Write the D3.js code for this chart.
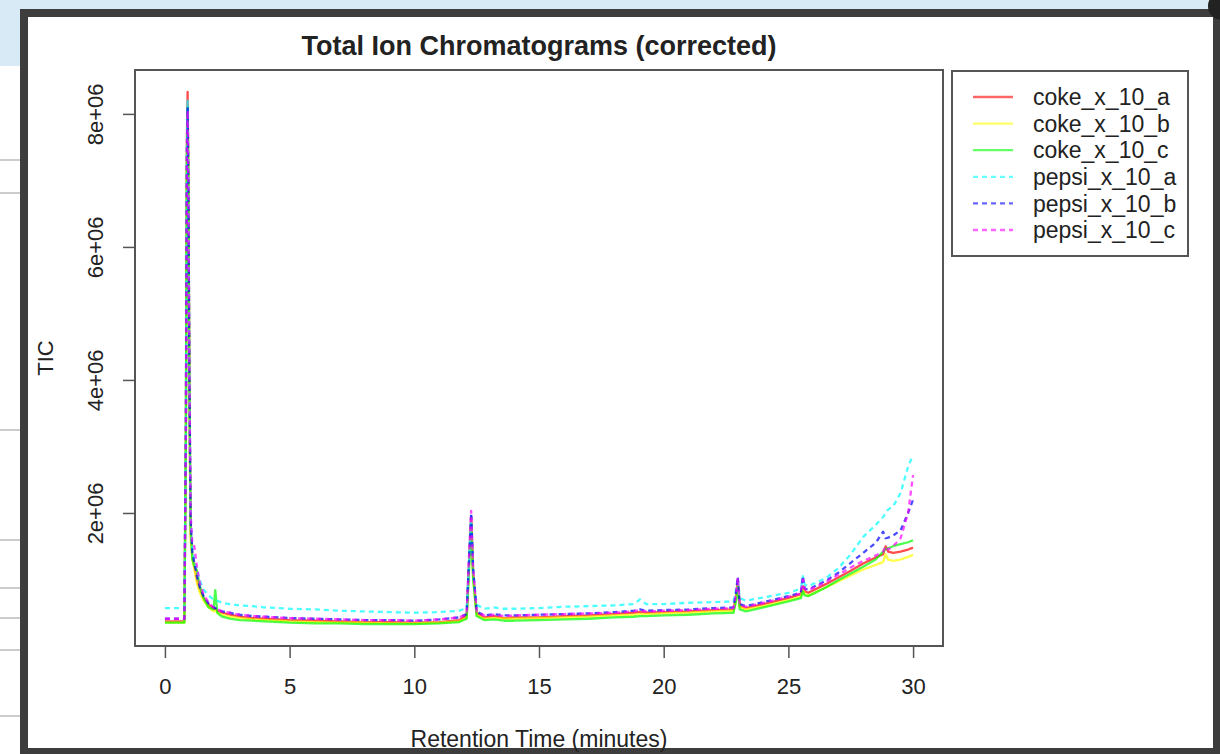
<!DOCTYPE html>
<html><head><meta charset="utf-8">
<script src="https://cdn.jsdelivr.net/npm/d3@7"></script>
<style>body{margin:0;background:#fff}svg{display:block}text{font-family:"Liberation Sans",Arial,sans-serif;fill:#222}</style>
</head><body><svg id="c" width="1220" height="754"></svg>
<script>
// ---- data (TIC in millions) ----
const seriesNames = ["coke_x_10_a","coke_x_10_b","coke_x_10_c","pepsi_x_10_a","pepsi_x_10_b","pepsi_x_10_c"];
const seriesColors = ["#ff0000","#ffff00","#00ff00","#00ffff","#0000ff","#ff00ff"];
const seriesDash = [null,null,null,"5,4","5,4","5,4"];
const retentionTime = [0,0.4,0.78,0.84,0.88,0.91,0.94,0.98,1.03,1.1,1.18,1.28,1.4,1.55,1.75,1.95,2.02,2.1,2.3,2.6,3,3.5,4,5,6,7,8,9,10,11,11.8,12.1,12.2,12.28,12.36,12.5,12.8,13.2,13.6,14,15,16,17,18,18.8,19.05,19.3,20,21,22,22.8,22.9,22.97,23.05,23.3,24,25,25.5,25.58,25.66,25.8,26.5,27,27.5,28,28.5,28.8,28.9,29,29.2,29.5,29.8,30];
const cokeA = [0.37,0.37,0.37,3.2,7.6,8.33,7.1,4.0,1.7,1.35,1.2,1.0,0.85,0.72,0.62,0.56,0.56,0.53,0.5,0.47,0.44,0.42,0.41,0.39,0.38,0.37,0.36,0.36,0.35,0.36,0.39,0.45,1.3,1.95,1.1,0.5,0.43,0.45,0.42,0.43,0.43,0.45,0.46,0.48,0.5,0.51,0.5,0.51,0.52,0.54,0.55,0.75,0.98,0.6,0.57,0.63,0.72,0.78,0.9,0.82,0.8,0.93,1.03,1.13,1.24,1.33,1.38,1.5,1.42,1.4,1.42,1.45,1.48];
const cokeB = [0.35,0.35,0.35,3.0,7.2,8.0,6.9,3.8,1.6,1.3,1.15,0.95,0.8,0.68,0.58,0.52,0.53,0.5,0.47,0.44,0.42,0.4,0.39,0.37,0.36,0.35,0.35,0.34,0.34,0.35,0.37,0.42,1.2,1.85,1.0,0.46,0.41,0.42,0.41,0.41,0.42,0.43,0.44,0.46,0.47,0.48,0.48,0.49,0.5,0.52,0.53,0.7,0.92,0.58,0.55,0.6,0.69,0.74,0.85,0.78,0.76,0.88,0.97,1.06,1.15,1.22,1.26,1.38,1.3,1.28,1.3,1.34,1.37];
const cokeC = [0.35,0.35,0.35,3.1,7.3,8.1,7.0,4.0,1.8,1.3,1.2,1.14,0.9,0.72,0.58,0.55,0.84,0.5,0.44,0.41,0.39,0.38,0.37,0.35,0.34,0.34,0.33,0.33,0.33,0.34,0.36,0.41,1.2,1.85,1.0,0.45,0.39,0.4,0.38,0.38,0.39,0.4,0.41,0.43,0.44,0.45,0.45,0.46,0.47,0.49,0.5,0.68,0.9,0.55,0.52,0.58,0.67,0.72,0.82,0.76,0.75,0.88,0.99,1.09,1.19,1.3,1.42,1.46,1.47,1.5,1.53,1.56,1.59];
const pepsiA = [0.57,0.57,0.57,3.3,7.5,8.2,7.1,4.2,1.9,1.45,1.3,1.15,0.98,0.85,0.76,0.7,0.69,0.68,0.65,0.63,0.61,0.6,0.58,0.56,0.55,0.53,0.52,0.51,0.5,0.51,0.53,0.57,1.3,1.95,1.1,0.62,0.56,0.58,0.56,0.56,0.57,0.59,0.6,0.61,0.63,0.7,0.63,0.63,0.65,0.66,0.67,0.85,1.02,0.72,0.68,0.73,0.8,0.86,1.05,0.92,0.9,1.02,1.17,1.38,1.64,1.82,1.94,2.0,2.05,2.1,2.3,2.7,2.87];
const pepsiB = [0.41,0.41,0.41,3.2,7.4,8.1,7.0,4.1,1.9,1.4,1.25,1.05,0.88,0.75,0.64,0.58,0.57,0.55,0.52,0.5,0.47,0.45,0.44,0.42,0.41,0.4,0.39,0.39,0.38,0.4,0.43,0.48,1.35,2.0,1.15,0.52,0.46,0.48,0.46,0.46,0.47,0.48,0.49,0.51,0.53,0.55,0.53,0.54,0.55,0.57,0.58,0.8,1.04,0.63,0.6,0.66,0.75,0.8,1.05,0.86,0.85,0.98,1.1,1.25,1.4,1.55,1.72,1.62,1.63,1.66,1.74,2.0,2.2];
const pepsiC = [0.41,0.41,0.41,3.2,7.3,8.05,7.0,4.2,2.0,1.52,1.5,1.2,0.95,0.78,0.65,0.58,0.57,0.55,0.52,0.5,0.47,0.45,0.44,0.42,0.41,0.4,0.39,0.39,0.38,0.4,0.43,0.48,1.4,2.03,1.15,0.52,0.46,0.47,0.45,0.46,0.47,0.48,0.49,0.5,0.52,0.54,0.52,0.53,0.54,0.56,0.57,0.78,1.03,0.62,0.59,0.65,0.74,0.79,1.0,0.85,0.84,0.96,1.07,1.18,1.28,1.36,1.42,1.5,1.45,1.5,1.62,2.0,2.57];
const seriesValues = [cokeA,cokeB,cokeC,pepsiA,pepsiB,pepsiC];
const xTicks = [0,5,10,15,20,25,30];
const yTicks = [2,4,6,8];
const yTickLabels = ["2e+06","4e+06","6e+06","8e+06"];
const titleText = "Total Ion Chromatograms (corrected)";
const xLabel = "Retention Time (minutes)";
const yLabel = "TIC";

// ---- layout ----
const svg = d3.select("#c");
// background window chrome
svg.append("rect").attr("x",0).attr("y",0).attr("width",1220).attr("height",10).attr("fill","#d9eaf7");
svg.append("rect").attr("x",0).attr("y",0).attr("width",20).attr("height",66).attr("fill","#d9eaf7");
[160,193,430,540,588,618,650,716].forEach(y=>svg.append("line").attr("x1",0).attr("x2",20).attr("y1",y).attr("y2",y).attr("stroke","#bbb").attr("stroke-width",1.5));
svg.append("rect").attr("x",20).attr("y",9).attr("width",1200).attr("height",745).attr("fill","#3d3d3d");
svg.append("rect").attr("x",28).attr("y",17).attr("width",1185).attr("height",731).attr("fill","#ffffff");
svg.append("circle").attr("cx",1222).attr("cy",6).attr("r",14).attr("fill","#222");

const L=135,T=70,R=943,B=646;
const x = d3.scaleLinear().domain([-1.2,31.2]).range([L,R]);
const y = d3.scaleLinear().domain([0,8.66]).range([B,T]);

svg.append("clipPath").attr("id","pc").append("rect").attr("x",L).attr("y",T).attr("width",R-L).attr("height",B-T);
const line = d3.line().x((d,i)=>x(retentionTime[i])).y(d=>y(d));
const g = svg.append("g").attr("clip-path","url(#pc)");
seriesValues.forEach((vals,k)=>{
  const p = g.append("path").attr("d",line(vals)).attr("fill","none")
    .attr("stroke",seriesColors[k]).attr("stroke-width",2.3).attr("stroke-opacity",0.7)
    .attr("stroke-linejoin","round");
  if(seriesDash[k]) p.attr("stroke-dasharray",seriesDash[k]);
});

// box
svg.append("rect").attr("x",L).attr("y",T).attr("width",R-L).attr("height",B-T)
  .attr("fill","none").attr("stroke","#555").attr("stroke-width",2);

const fontFam = "Liberation Sans, Arial, sans-serif";
// axes
const xAxis = d3.axisBottom(x).tickValues(xTicks).tickSize(11).tickPadding(20).tickFormat(d3.format("d"));
const xg = svg.append("g").attr("transform",`translate(0,${B+1})`).call(xAxis);
xg.select(".domain").remove();
xg.selectAll("line").attr("stroke","#555").attr("stroke-width",1.5);
xg.selectAll("text").attr("font-size",22).attr("fill","#222").attr("font-family",fontFam);

const yAxis = d3.axisLeft(y).tickValues(yTicks).tickSize(11).tickFormat((d,i)=>yTickLabels[i]);
const yg = svg.append("g").attr("transform",`translate(${L-1},0)`).call(yAxis);
yg.select(".domain").remove();
yg.selectAll("line").attr("stroke","#555").attr("stroke-width",1.5);
yg.selectAll("text").attr("font-size",22).attr("fill","#222").attr("font-family",fontFam)
  .attr("text-anchor","middle").attr("dy",null).attr("x",null)
  .attr("transform","translate(-31,0) rotate(-90)");

// titles
svg.append("text").attr("x",(L+R)/2).attr("y",55).attr("text-anchor","middle")
  .attr("font-size",27).attr("font-weight","bold").text(titleText);
svg.append("text").attr("x",(L+R)/2).attr("y",747).attr("text-anchor","middle")
  .attr("font-size",23).text(xLabel);
svg.append("text").attr("transform",`translate(53,${(T+B)/2}) rotate(-90)`).attr("text-anchor","middle")
  .attr("font-size",22).text(yLabel);

// legend
const lg = svg.append("g");
lg.append("rect").attr("x",952).attr("y",71).attr("width",236).attr("height",185)
  .attr("fill","#fff").attr("stroke","#555").attr("stroke-width",2);
const ly = d3.scalePoint().domain(seriesNames).range([97,230]);
seriesNames.forEach((n,k)=>{
  const l = lg.append("line").attr("x1",973).attr("x2",1013).attr("y1",ly(n)).attr("y2",ly(n))
    .attr("stroke",seriesColors[k]).attr("stroke-width",2.3).attr("stroke-opacity",0.6);
  if(seriesDash[k]) l.attr("stroke-dasharray",seriesDash[k]);
  lg.append("text").attr("x",1033).attr("y",ly(n)).attr("dy","0.36em").attr("font-size",23).attr("fill","#333").text(n);
});
</script></body></html>
